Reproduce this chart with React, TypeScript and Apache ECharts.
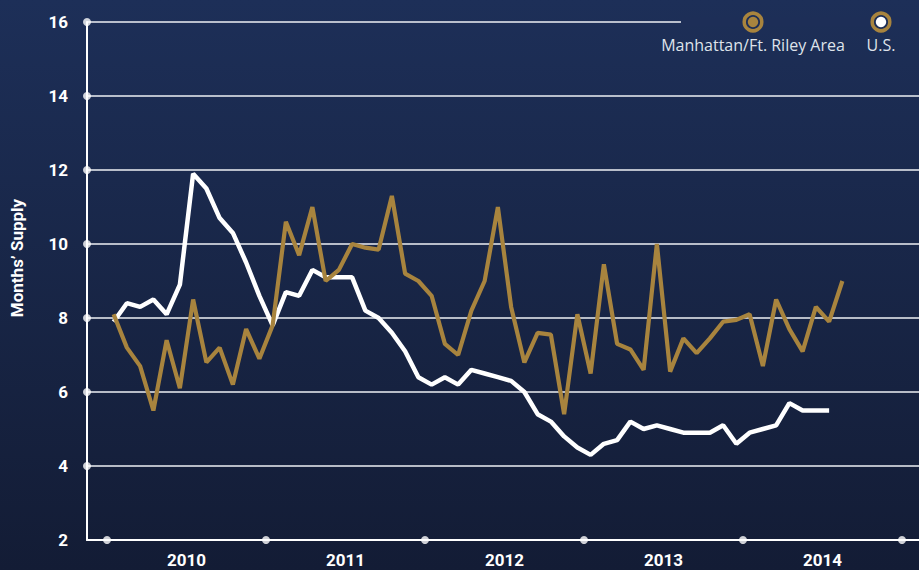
import React, { useEffect, useRef } from "react";
import * as echarts from "echarts";

const years = ["2010", "2011", "2012", "2013", "2014"];
const monthsPerYear = 12;
const yTicks = [4, 6, 8, 10, 12, 14, 16];
const yMin = 2;
const yMax = 16;
const yStep = 2;

const seriesNames = ["Manhattan/Ft. Riley Area", "U.S."];

// Monthly months' supply, Jan 2010 onward
const manhattan = [
  8.1, 7.2, 6.7, 5.5, 7.4, 6.1, 8.5, 6.8, 7.2, 6.2, 7.7, 6.9,
  7.8, 10.6, 9.7, 11.0, 9.0, 9.3, 10.0, 9.9, 9.85, 11.3, 9.2, 9.0,
  8.6, 7.3, 7.0, 8.2, 9.0, 11.0, 8.3, 6.8, 7.6, 7.55, 5.4, 8.1,
  6.5, 9.45, 7.3, 7.15, 6.6, 10.0, 6.55, 7.45, 7.05, 7.45, 7.9, 7.95,
  8.1, 6.7, 8.5, 7.7, 7.1, 8.3, 7.9, 9.0,
];

const us = [
  7.9, 8.4, 8.3, 8.5, 8.1, 8.9, 11.9, 11.5, 10.7, 10.3, 9.5, 8.6,
  7.8, 8.7, 8.6, 9.3, 9.1, 9.1, 9.1, 8.2, 8.0, 7.6, 7.1, 6.4,
  6.2, 6.4, 6.2, 6.6, 6.5, 6.4, 6.3, 6.0, 5.4, 5.2, 4.8, 4.5,
  4.3, 4.6, 4.7, 5.2, 5.0, 5.1, 5.0, 4.9, 4.9, 4.9, 5.1, 4.6,
  4.9, 5.0, 5.1, 5.7, 5.5, 5.5, 5.5,
];

const GOLD = "#a8843e";
const WHITE = "#ffffff";
const BG_TOP = "#1d2f58";
const BG_BOTTOM = "#131c35";
const AXIS_FONT = "Roboto";

export default function App() {
  const ref = useRef<HTMLDivElement>(null);

  useEffect(() => {
    document.body.style.margin = "0";
    if (!ref.current) return;
    const chart = echarts.init(ref.current, undefined, { renderer: "svg" });
    const totalMonths = years.length * monthsPerYear;
    const toPoints = (arr: number[]) => arr.map((v, i) => [i + 0.5, v]);
    const yearBoundaries = Array.from({ length: years.length + 1 }, (_, k) => [k * monthsPerYear, yMin]);

    const legendIcon = (cx: number, inner: string) => [
      { type: "circle", z: 100, shape: { cx, cy: 22, r: 8.8 }, style: { fill: "none", stroke: GOLD, lineWidth: 3.5 } },
      { type: "circle", z: 100, shape: { cx, cy: 22, r: 5.2 }, style: { fill: inner } },
    ];
    const legendText = (x: number, text: string) => ({
      type: "text", z: 100, x, y: 45,
      style: {
        text, fill: "#dfe3ea", fontSize: 16, fontFamily: "Open Sans",
        align: "center", verticalAlign: "middle",
      },
    });

    const option: any = {
      animation: false,
      backgroundColor: {
        type: "linear",
        x: 0, y: 0, x2: 0, y2: 1,
        colorStops: [
          { offset: 0, color: BG_TOP },
          { offset: 1, color: BG_BOTTOM },
        ],
      },
      grid: [
        { left: 85, right: 0, top: 22, bottom: 30 },
        { left: 107, right: 17, top: 22, bottom: 30 },
      ],
      xAxis: [
        {
          gridIndex: 0, type: "value", min: 0, max: 1, position: "bottom",
          axisLine: { show: true, onZero: false, lineStyle: { color: WHITE, width: 2 } },
          axisTick: { show: false }, axisLabel: { show: false }, splitLine: { show: false },
        },
        {
          gridIndex: 1, type: "value", min: 0, max: totalMonths, interval: monthsPerYear,
          show: false,
        },
        {
          gridIndex: 1, type: "category", data: years, boundaryGap: true, position: "bottom",
          axisLine: { show: false }, axisTick: { show: false }, splitLine: { show: false },
          axisLabel: {
            color: WHITE, fontFamily: AXIS_FONT, fontWeight: "bold", fontSize: 17, margin: 11,
          },
        },
      ],
      yAxis: [
        {
          gridIndex: 0, type: "value", min: yMin, max: yMax, interval: yStep,
          name: "Months\u2019 Supply", nameLocation: "middle", nameRotate: 90, nameGap: 62,
          nameTextStyle: {
            color: WHITE, fontFamily: AXIS_FONT, fontWeight: "bold", fontSize: 17,
            padding: [0, 0, 0, 46],
          },
          axisLine: { show: true, lineStyle: { color: WHITE, width: 2 } },
          axisTick: { show: false },
          axisLabel: { color: WHITE, fontFamily: AXIS_FONT, fontWeight: "bold", fontSize: 17, margin: 19 },
          splitLine: { show: true, lineStyle: { color: "#eef0f4", width: 1.5 } },
        },
        { gridIndex: 1, type: "value", min: yMin, max: yMax, interval: yStep, show: false },
      ],
      graphic: [
        // hide the top gridline behind the legend area
        {
          type: "rect", z: 50, left: 681, top: 18,
          shape: { width: 240, height: 8 }, style: { fill: "#1d2e57" }, silent: true,
        },
        ...legendIcon(753, GOLD),
        legendText(753, seriesNames[0]),
        ...legendIcon(881, WHITE),
        legendText(881, seriesNames[1]),
      ],
      series: [
        {
          name: seriesNames[1], type: "line", xAxisIndex: 1, yAxisIndex: 1,
          data: toPoints(us), symbol: "none", z: 3,
          lineStyle: { color: WHITE, width: 4.5 },
        },
        {
          name: seriesNames[0], type: "line", xAxisIndex: 1, yAxisIndex: 1,
          data: toPoints(manhattan), symbol: "none", z: 4,
          lineStyle: { color: GOLD, width: 4.2 },
        },
        {
          type: "scatter", xAxisIndex: 1, yAxisIndex: 1, clip: false, silent: true, z: 5,
          data: yearBoundaries, symbol: "circle", symbolSize: 8,
          itemStyle: { color: WHITE },
        },
        {
          type: "scatter", xAxisIndex: 0, yAxisIndex: 0, clip: false, silent: true, z: 5,
          data: yTicks.map((v) => [0, v]), symbol: "circle", symbolSize: 8,
          itemStyle: { color: WHITE },
        },
      ],
    };
    chart.setOption(option);
    return () => chart.dispose();
  }, []);

  return <div ref={ref} style={{ width: 919, height: 570 }} />;
}
